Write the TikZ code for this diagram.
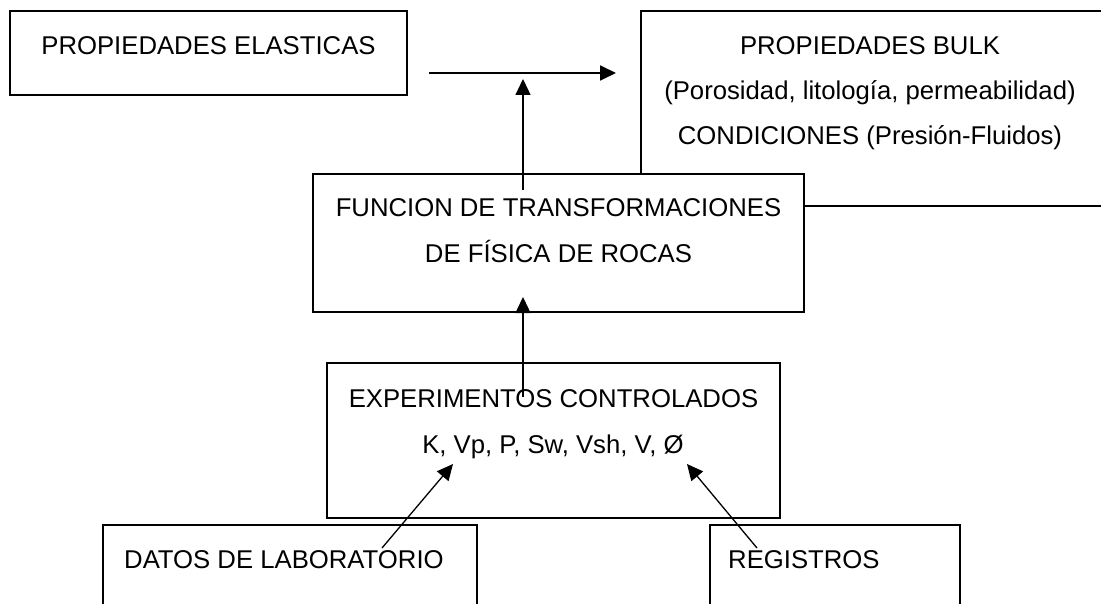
\documentclass[tikz,border=0pt]{standalone}
\usepackage{fontspec}
\setmainfont{Liberation Sans}
\usetikzlibrary{arrows.meta}
\begin{document}
\begin{tikzpicture}[x=1pt,y=-1pt,
  box/.style={draw=black,line width=1.6pt,rectangle,inner sep=0pt,outer sep=0pt},
  wbox/.style={box,fill=white},
  lbl/.style={anchor=base,inner sep=0pt,font=\fontsize{25.7}{30}\selectfont},
  lblw/.style={lbl,anchor=base west},
  conn/.style={line width=1.3pt,-{Triangle[length=16pt,width=15pt]}}]
\useasboundingbox (0,0) rectangle (1101,604);
% boxes
\node[box,minimum width=397pt,minimum height=84pt] (elas) at (208.5,53) {};
\node[box,minimum width=469pt,minimum height=195pt] (bulk) at (875.5,108.5) {};
\node[wbox,minimum width=491pt,minimum height=138pt] (func) at (558.5,243) {};
\node[box,minimum width=453pt,minimum height=155pt] (exp) at (553.5,440.5) {};
\node[box,minimum width=374pt,minimum height=115pt] (datos) at (290,582.5) {};
\node[box,minimum width=250pt,minimum height=115pt] (reg) at (835,582.5) {};
% connector end points
\coordinate (h1) at (429,73);
\coordinate (h2) at (616,73);
\coordinate (v1s) at (523,190);
\coordinate (v1e) at (523,79);
\coordinate (v2s) at (523,397);
\coordinate (v2e) at (523,297);
\coordinate (labs) at (382,548);
\coordinate (labe) at (453,464);
\coordinate (regs) at (757,548);
\coordinate (rege) at (687,464);
% connectors
\draw[conn,line width=1.8pt] (h1) -- (h2);
\draw[conn] (v1s) -- (v1e);
\draw[conn] (v2s) -- (v2e);
\draw[conn] (labs) -- (labe);
\draw[conn] (regs) -- (rege);
% texts
\node[lbl] (t1) at (208.5,55) {PROPIEDADES ELASTICAS};
\node[lbl] (t2) at (870,55) {PROPIEDADES BULK};
\node[lbl] (t3) at (870,100) {(Porosidad, litología, permeabilidad)};
\node[lbl] (t4) at (870,145) {CONDICIONES (Presión-Fluidos)};
\node[lbl] (t5) at (558.5,217) {FUNCION DE TRANSFORMACIONES};
\node[lbl] (t6) at (558.5,262) {DE FÍSICA DE ROCAS};
\node[lbl] (t7) at (553.5,407) {EXPERIMENTOS CONTROLADOS};
\node[lbl] (t8) at (553,453) {K, Vp, P, Sw, Vsh, V, Ø};
\node[lblw] (t9) at (124,568) {DATOS DE LABORATORIO};
\node[lblw] (t10) at (728,568) {REGISTROS};
\end{tikzpicture}
\end{document}
